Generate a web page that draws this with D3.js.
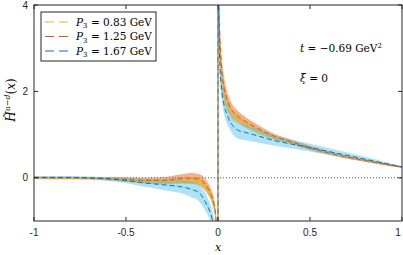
<!DOCTYPE html>
<html>
<head>
<meta charset="utf-8">
<script src="https://cdn.jsdelivr.net/npm/d3@7"></script>
<style>
  body { margin: 0; background: #fff; }
  text { font-family: "Liberation Sans", Arial, sans-serif; }
  .serif { font-family: "DejaVu Serif", "Liberation Serif", serif; }
</style>
</head>
<body>
<svg id="chart" width="403" height="255"></svg>
<script>
// values
var xNeg = [-1, -0.9, -0.8, -0.7, -0.6, -0.5, -0.4, -0.3, -0.2, -0.15, -0.1, -0.07, -0.05, -0.03, -0.02, -0.01, 0]
var xPos = [0, 0.01, 0.02, 0.03, 0.05, 0.07, 0.1, 0.15, 0.2, 0.3, 0.4, 0.5, 0.6, 0.7, 0.8, 0.9, 1]

var labels = ["P\u2083 = 0.83 GeV", "P\u2083 = 1.25 GeV", "P\u2083 = 1.67 GeV"]
var colors = ["#EDB120", "#D95319", "#0072BD"]
var bandColors = ["#EDB120", "#D95319", "#4DBEEE"]

var yNeg083 = [0, -0.01, -0.01, -0.01, -0.02, -0.05, -0.08, -0.09, -0.07, -0.06, -0.1, -0.2, -0.32, -0.52, -0.7, -1.05, -4]
var eNeg083 = [0.03, 0.03, 0.03, 0.03, 0.04, 0.05, 0.05, 0.06, 0.07, 0.08, 0.09, 0.1, 0.1, 0.1, 0.1, 0.1, 0.1]
var yPos083 = [5, 3.0, 2.4, 2.05, 1.72, 1.52, 1.38, 1.24, 1.12, 0.94, 0.81, 0.69, 0.58, 0.48, 0.4, 0.32, 0.25]
var ePos083 = [0.4, 0.3, 0.25, 0.2, 0.16, 0.13, 0.1, 0.08, 0.07, 0.05, 0.04, 0.04, 0.03, 0.03, 0.03, 0.02, 0.02]

var yNeg125 = [0, 0, 0, -0.01, -0.02, -0.04, -0.06, -0.06, -0.02, -0.01, -0.04, -0.15, -0.28, -0.48, -0.65, -1.0, -4]
var eNeg125 = [0.03, 0.03, 0.03, 0.03, 0.04, 0.05, 0.06, 0.07, 0.1, 0.12, 0.12, 0.13, 0.13, 0.13, 0.13, 0.13, 0.13]
var yPos125 = [5, 3.2, 2.5, 2.15, 1.8, 1.6, 1.45, 1.3, 1.18, 0.97, 0.83, 0.69, 0.58, 0.48, 0.4, 0.32, 0.25]
var ePos125 = [0.6, 0.45, 0.35, 0.28, 0.2, 0.16, 0.13, 0.11, 0.09, 0.06, 0.05, 0.05, 0.04, 0.04, 0.03, 0.03, 0.02]

var yNeg167 = [0.01, 0.01, 0.01, 0, -0.02, -0.06, -0.12, -0.16, -0.21, -0.26, -0.36, -0.55, -0.72, -0.98, -1.2, -1.6, -4]
var eNeg167 = [0.02, 0.02, 0.02, 0.03, 0.04, 0.06, 0.09, 0.12, 0.15, 0.18, 0.2, 0.2, 0.2, 0.2, 0.2, 0.2, 0.2]
var yPos167 = [5, 2.6, 2.05, 1.75, 1.45, 1.27, 1.12, 1.05, 0.99, 0.87, 0.78, 0.7, 0.61, 0.52, 0.43, 0.34, 0.25]
var ePos167 = [0.4, 0.3, 0.25, 0.22, 0.2, 0.2, 0.2, 0.18, 0.16, 0.12, 0.1, 0.09, 0.08, 0.07, 0.06, 0.04, 0.02]

var xTicks = [-1, -0.5, 0, 0.5, 1]
var yTicks = [0, 2, 4]

var series = [
	{neg: yNeg083, eNeg: eNeg083, pos: yPos083, ePos: ePos083},
	{neg: yNeg125, eNeg: eNeg125, pos: yPos125, ePos: ePos125},
	{neg: yNeg167, eNeg: eNeg167, pos: yPos167, ePos: ePos167}
]

var padL = 34, padR = 402, padT = 5, padB = 221

var x = d3.scaleLinear().domain([-1, 1]).range([padL, padR])
var y = d3.scaleLinear().domain([-1, 4]).range([padB, padT])

var svg = d3.select("#chart")

svg.append("clipPath").attr("id", "clip")
	.append("rect").attr("x", padL).attr("y", padT)
	.attr("width", padR - padL).attr("height", padB - padT)

var plot = svg.append("g").attr("clip-path", "url(#clip)")

function points(xs, ys, es) {
	return xs.map(function(d, i) {
		return {x: d, y: ys[i], lo: ys[i] - es[i], hi: ys[i] + es[i]}
	})
}

var area = d3.area()
	.x(function(d) { return x(d.x) })
	.y0(function(d) { return y(d.lo) })
	.y1(function(d) { return y(d.hi) })
	.curve(d3.curveMonotoneX)

var line = d3.line()
	.x(function(d) { return x(d.x) })
	.y(function(d) { return y(d.y) })
	.curve(d3.curveMonotoneX)

// zero line
plot.append("line")
	.attr("x1", padL).attr("x2", padR)
	.attr("y1", y(0)).attr("y2", y(0))
	.attr("stroke", "#222").attr("stroke-width", 0.8)
	.attr("stroke-dasharray", "1,2")

// bands: red first, then yellow, then blue on top
var bandOrder = [1, 0, 2]
var bandOpacity = [0.6, 0.45, 0.45]
bandOrder.forEach(function(k) {
	var s = series[k]
	var n = points(xNeg, s.neg, s.eNeg)
	var p = points(xPos, s.pos, s.ePos)
	plot.append("path").datum(n).attr("d", area)
		.attr("fill", bandColors[k]).attr("fill-opacity", bandOpacity[k])
	plot.append("path").datum(p).attr("d", area)
		.attr("fill", bandColors[k]).attr("fill-opacity", bandOpacity[k])
})

// dashed central lines (neg branch runs to -inf, pos branch comes from +inf)
series.forEach(function(s, k) {
	var n = points(xNeg, s.neg, s.eNeg)
	var p = points(xPos, s.pos, s.ePos)
	plot.append("path")
		.attr("d", line(n) + line(p).replace(/^M/, "L"))
		.attr("fill", "none").attr("stroke", colors[k]).attr("stroke-width", 1)
		.attr("stroke-dasharray", "5,3")
})

// frame
svg.append("rect").attr("x", padL).attr("y", padT)
	.attr("width", padR - padL).attr("height", padB - padT)
	.attr("fill", "none").attr("stroke", "#262626").attr("stroke-width", 1)

// ticks (inward, mirrored)
xTicks.forEach(function(t) {
	svg.append("line").attr("x1", x(t)).attr("x2", x(t)).attr("y1", padB).attr("y2", padB - 4)
		.attr("stroke", "#262626")
	svg.append("line").attr("x1", x(t)).attr("x2", x(t)).attr("y1", padT).attr("y2", padT + 4)
		.attr("stroke", "#262626")
	svg.append("text").attr("x", Math.min(x(t), 398)).attr("y", padB + 15)
		.attr("text-anchor", "middle").attr("font-size", 10).attr("fill", "#262626")
		.text(t)
})
yTicks.forEach(function(t) {
	svg.append("line").attr("x1", padL).attr("x2", padL + 4).attr("y1", y(t)).attr("y2", y(t))
		.attr("stroke", "#262626")
	svg.append("line").attr("x1", padR).attr("x2", padR - 4).attr("y1", y(t)).attr("y2", y(t))
		.attr("stroke", "#262626")
	svg.append("text").attr("x", padL - 6).attr("y", Math.max(y(t) + 3.5, 9))
		.attr("text-anchor", "end").attr("font-size", 10).attr("fill", "#262626")
		.text(t)
})

// axis labels
svg.append("text").attr("class", "serif").attr("x", x(0)).attr("y", 251)
	.attr("text-anchor", "middle").attr("font-size", 11).attr("font-style", "italic")
	.text("x")

var yl = svg.append("text").attr("class", "serif")
	.attr("transform", "translate(15," + y(1.8) + ") rotate(-90)")
	.attr("text-anchor", "middle").attr("font-size", 12)
yl.append("tspan").attr("font-style", "italic").text("H\u0303")
yl.append("tspan").attr("font-size", 8).attr("dy", -5).attr("font-style", "italic").text("u\u2212d")
yl.append("tspan").attr("dy", 5).text("(")
yl.append("tspan").attr("font-style", "italic").text("x")
yl.append("tspan").text(")")

// annotations
var ta = svg.append("text").attr("class", "serif").attr("x", 300).attr("y", 52).attr("font-size", 10.5)
ta.append("tspan").attr("font-style", "italic").text("t")
ta.append("tspan").text(" = \u22120.69 GeV")
ta.append("tspan").attr("font-size", 7).attr("dy", -4).text("2")

var xa = svg.append("text").attr("class", "serif").attr("x", 300).attr("y", 82).attr("font-size", 10.5)
xa.append("tspan").attr("font-style", "italic").text("\u03be")
xa.append("tspan").text(" = 0")

// legend
var legend = svg.append("g")
legend.append("rect").attr("x", 41).attr("y", 12).attr("width", 115).attr("height", 49)
	.attr("fill", "#fff").attr("stroke", "#262626").attr("stroke-width", 1)
labels.forEach(function(l, k) {
	var ly = 22 + k * 14.5
	legend.append("line").attr("x1", 45).attr("x2", 70).attr("y1", ly).attr("y2", ly)
		.attr("stroke", colors[k]).attr("stroke-width", 1.2).attr("stroke-dasharray", "9,5")
	var t = legend.append("text").attr("class", "serif").attr("x", 76).attr("y", ly + 3.5)
		.attr("font-size", 10.5)
	t.append("tspan").attr("font-style", "italic").text("P")
	t.append("tspan").attr("font-size", 7).attr("dy", 2.5).text("3")
	t.append("tspan").attr("dy", -2.5).text(" = " + l.split("= ")[1])
})
</script>
</body>
</html>
